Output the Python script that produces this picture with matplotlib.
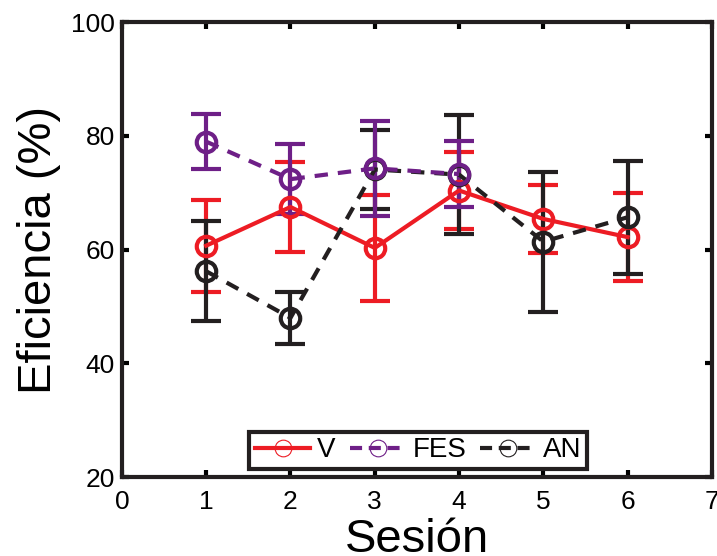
import matplotlib
matplotlib.use('Agg')
import matplotlib.pyplot as plt
from matplotlib.lines import Line2D
import numpy as np

plt.rcParams['font.family'] = ['Liberation Sans', 'DejaVu Sans']

sesion = [1, 2, 3, 4, 5, 6]
v_media = [60.7, 67.5, 60.3, 70.4, 65.4, 62.2]
v_err = [8.1, 8.0, 9.3, 6.7, 6.0, 7.8]

sesion_fes = [1, 2, 3, 4]
fes_media = [79.0, 72.4, 74.3, 73.3]
fes_err = [4.8, 6.1, 8.4, 5.8]

an_media = [56.2, 48.0, 74.1, 73.2, 61.4, 65.7]
an_err = [8.8, 4.6, 7.0, 10.5, 12.3, 9.9]

rojo = '#ED1C24'
morado = '#6E1F87'
negro = '#231F20'

fig = plt.figure(figsize=(7.17, 5.56), dpi=100)
ax = fig.add_axes([0.170, 0.142, 0.823, 0.818])

kw = dict(lw=3, ms=14, mew=3, mfc='none', capsize=11, capthick=3, elinewidth=3)
ax.errorbar(sesion, v_media, yerr=v_err, color=rojo, marker='o', ls='-', **kw)
ax.errorbar(sesion, an_media, yerr=an_err, color=negro, marker='o', ls='--',
            dashes=(3.2, 2.4), **kw)
ax.errorbar(sesion_fes, fes_media, yerr=fes_err, color=morado, marker='o', ls='--',
            dashes=(3.2, 2.4), **kw)

ax.set_xlim(0, 7)
ax.set_ylim(20, 100)
ax.set_xticks(range(0, 8))
ax.set_yticks([20, 40, 60, 80, 100])
ax.tick_params(direction='in', length=5, width=3, labelsize=19, top=True, right=True)
ax.tick_params(axis='x', pad=9)
ax.tick_params(axis='y', pad=5)
for s in ax.spines.values():
    s.set_linewidth(3)
    s.set_color(negro)

ax.set_xlabel('Sesión', fontsize=34, labelpad=3)
ax.set_ylabel('Eficiencia (%)', fontsize=34, labelpad=7)

handles = [
    Line2D([], [], color=rojo, lw=3, marker='o', ms=12, mew=0.8, mfc='none'),
    Line2D([], [], color=morado, lw=3, ls='--', dashes=(2.9, 1.6), marker='o', ms=12, mew=0.8, mfc='none'),
    Line2D([], [], color=negro, lw=3, ls='--', dashes=(2.9, 1.6), marker='o', ms=12, mew=0.8, mfc='none'),
]
leg = ax.legend(handles, ['V', 'FES', 'AN'], loc='lower center', bbox_to_anchor=(0.5017, 0.018),
                ncol=3, fontsize=20, frameon=True, fancybox=False, framealpha=1, borderaxespad=0,
                handlelength=2.0, handletextpad=0.25, columnspacing=0.5, borderpad=0.2)
leg.get_frame().set_edgecolor(negro)
leg.get_frame().set_linewidth(3)

fig.savefig('out.png', dpi=100)
